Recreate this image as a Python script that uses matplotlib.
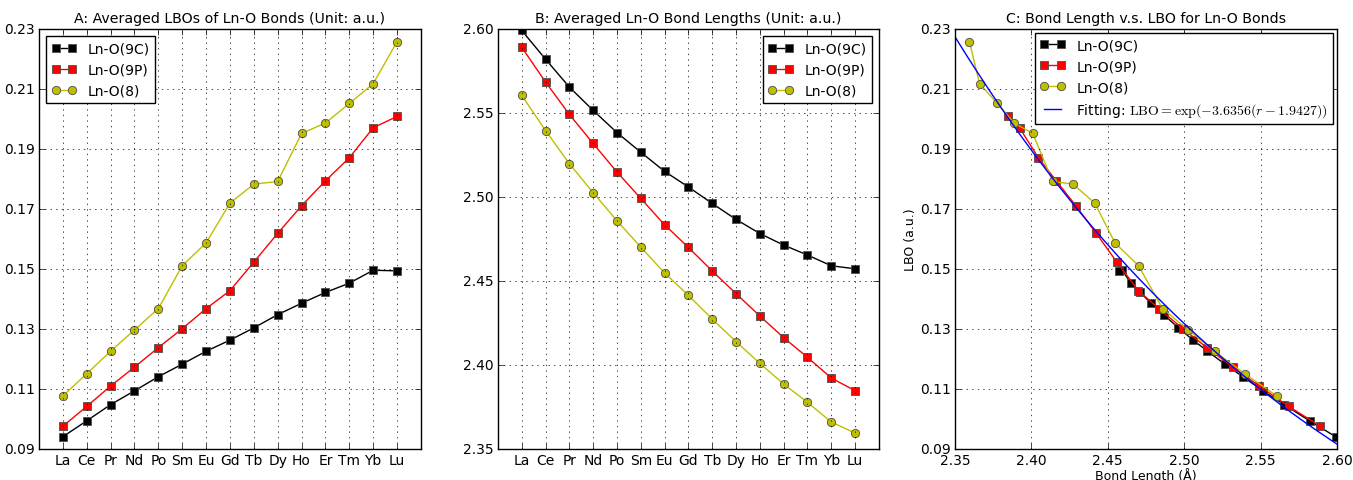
import matplotlib
matplotlib.use("Agg")
import matplotlib.pyplot as plt
import numpy as np

plt.style.use("classic")

elements = ["La", "Ce", "Pr", "Nd", "Po", "Sm", "Eu", "Gd", "Tb", "Dy", "Ho", "Er", "Tm", "Yb", "Lu"]

lbo_9c = [0.0941, 0.0994, 0.1048, 0.1094, 0.1141, 0.1183, 0.1226, 0.1263,
          0.1304, 0.1348, 0.1386, 0.1422, 0.1453, 0.1496, 0.1494]
lbo_9p = [0.0976, 0.1042, 0.1110, 0.1173, 0.1238, 0.1301, 0.1368, 0.1428,
          0.1523, 0.1619, 0.1711, 0.1794, 0.1871, 0.1971, 0.2009]
lbo_8 = [0.1077, 0.1151, 0.1226, 0.1297, 0.1368, 0.1511, 0.1587, 0.1720,
         0.1783, 0.1792, 0.1952, 0.1987, 0.2052, 0.2118, 0.2258]

len_9c = [2.5992, 2.5821, 2.5655, 2.5516, 2.5384, 2.5267, 2.5153, 2.5060,
          2.4962, 2.4867, 2.4783, 2.4714, 2.4655, 2.4591, 2.4573]
len_9p = [2.5892, 2.5685, 2.5492, 2.5319, 2.5149, 2.4992, 2.4835, 2.4700,
          2.4560, 2.4425, 2.4292, 2.4163, 2.4046, 2.3923, 2.3847]
len_8 = [2.5606, 2.5396, 2.5199, 2.5026, 2.4859, 2.4702, 2.4548, 2.4415,
         2.4274, 2.4139, 2.4010, 2.3887, 2.3778, 2.3661, 2.3595]

fit_a = 3.6356
fit_r0 = 1.9427

x = np.arange(len(elements))

fig = plt.figure(figsize=(13.53, 4.81), dpi=100, facecolor="white")
axA = fig.add_axes([0.0288, 0.0644, 0.2823, 0.873])
axB = fig.add_axes([0.368, 0.0644, 0.2816, 0.873])
axC = fig.add_axes([0.7058, 0.0644, 0.2823, 0.873])

ms = 6
styles = [("Ln-O(9C)", "k", "s"), ("Ln-O(9P)", "r", "s"), ("Ln-O(8)", "y", "o")]

# A: LBOs
for (lab, c, m), v in zip(styles, [lbo_9c, lbo_9p, lbo_8]):
    axA.plot(x, v, color=c, marker=m, ms=ms, mec="0.3", mew=0.6, label=lab)
axA.set_xlim(-1, 15)
axA.set_ylim(0.09, 0.23)
axA.set_yticks(np.arange(0.09, 0.2301, 0.02))
axA.set_xticks(x)
axA.set_xticklabels(elements)
axA.set_title("A: Averaged LBOs of Ln-O Bonds (Unit: a.u.)", fontsize=10.2)
axA.grid(True)
axA.legend(loc="upper left", fontsize=10, handlelength=1.8)

# B: bond lengths
for (lab, c, m), v in zip(styles, [len_9c, len_9p, len_8]):
    axB.plot(x, v, color=c, marker=m, ms=ms, mec="0.3", mew=0.6, label=lab)
axB.set_xlim(-1, 15)
axB.set_ylim(2.35, 2.60)
axB.set_yticks(np.arange(2.35, 2.6001, 0.05))
axB.set_xticks(x)
axB.set_xticklabels(elements)
axB.set_title("B: Averaged Ln-O Bond Lengths (Unit: a.u.)", fontsize=10.2)
axB.grid(True)
axB.legend(loc="upper right", fontsize=10, handlelength=1.8)

# C: bond length vs LBO
for (lab, c, m), r, v in zip(styles, [len_9c, len_9p, len_8], [lbo_9c, lbo_9p, lbo_8]):
    axC.plot(r, v, color=c, marker=m, ms=ms, mec="0.3", mew=0.6, label=lab)
rr = np.linspace(2.35, 2.60, 200)
axC.plot(rr, np.exp(-fit_a * (rr - fit_r0)), color="b",
         label=r"Fitting: $\mathrm{LBO}=\exp(-3.6356(r-1.9427))$")
axC.set_xlim(2.35, 2.60)
axC.set_ylim(0.09, 0.23)
axC.set_yticks(np.arange(0.09, 0.2301, 0.02))
axC.set_xticks(np.arange(2.35, 2.6001, 0.05))
axC.set_xlabel("Bond Length (Å)", fontsize=9, labelpad=0)
axC.set_ylabel("LBO (a.u.)", fontsize=9, labelpad=2)
axC.set_title("C: Bond Length v.s. LBO for Ln-O Bonds", fontsize=10.2)
axC.grid(True)
axC.legend(loc="upper right", fontsize=10, handlelength=1.8, borderaxespad=0.25)

for ax in (axA, axB, axC):
    ax.tick_params(labelsize=10, pad=3)

fig.savefig("out.png", dpi=100, facecolor="white")
